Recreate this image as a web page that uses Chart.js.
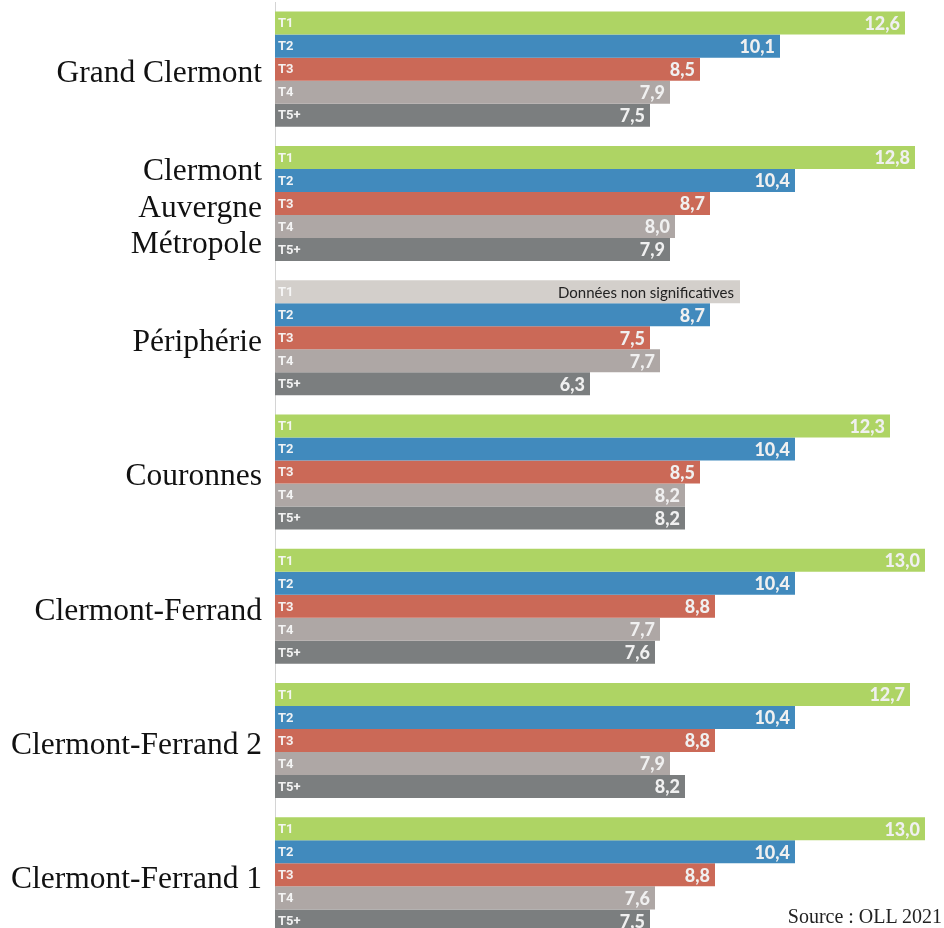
<!DOCTYPE html>
<html lang="fr">
<head>
<meta charset="utf-8">
<title>Loyers par typologie</title>
<script src="https://cdn.jsdelivr.net/npm/chart.js@4/dist/chart.umd.min.js"></script>
<style>
  html, body { margin: 0; padding: 0; background: #fff; overflow: hidden; }
  #wrap { position: relative; width: 944px; height: 942px; }
  #source {
    position: absolute; right: 2px; top: 905px;
    font-family: "Liberation Serif", serif; font-size: 20px; color: #222;
  }
</style>
</head>
<body>
<div id="wrap">
  <canvas id="rentChart"></canvas>
  <div id="source">Source : OLL 2021</div>
</div>
<script>
// --- Data ---
const regions = [
  'Grand Clermont',
  ['Clermont', 'Auvergne', 'Métropole'],
  'Périphérie',
  'Couronnes',
  'Clermont-Ferrand',
  'Clermont-Ferrand 2',
  'Clermont-Ferrand 1',
]
const typologies = ['T1', 'T2', 'T3', 'T4', 'T5+']

const t1 = [12.6, 12.8, null, 12.3, 13.0, 12.7, 13.0]
const t2 = [10.1, 10.4, 8.7, 10.4, 10.4, 10.4, 10.4]
const t3 = [8.5, 8.7, 7.5, 8.5, 8.8, 8.8, 8.8]
const t4 = [7.9, 8.0, 7.7, 8.2, 7.7, 7.9, 7.6]
const t5 = [7.5, 7.9, 6.3, 8.2, 7.6, 8.2, 7.5]

// length of the grey bar shown when a value is missing
const placeholderLength = 9.3
const placeholderText = 'Données non significatives'

const colors = ['#aed464', '#418abd', '#cb6957', '#aea7a5', '#7b7e7f']
const placeholderColor = '#d3cfcb'

const series = [t1, t2, t3, t4, t5]

const datasets = series.map((values, i) => ({
  label: typologies[i],
  data: values.map((v) => (v === null ? placeholderLength : v)),
  backgroundColor: values.map((v) => (v === null ? placeholderColor : colors[i])),
  missing: values.map((v) => v === null),
  borderWidth: 0,
  barPercentage: 1,
  categoryPercentage: 0.857,
}))

// --- Labels drawn inside the bars ---
const barLabels = {
  id: 'barLabels',
  afterDatasetsDraw(chart) {
    const ctx = chart.ctx
    ctx.save()
    ctx.textBaseline = 'middle'
    chart.data.datasets.forEach((ds, di) => {
      const meta = chart.getDatasetMeta(di)
      meta.data.forEach((bar, i) => {
        // series name at the start of the bar
        ctx.fillStyle = 'rgba(248,248,248,0.95)'
        ctx.textAlign = 'left'
        ctx.font = 'bold 13px Roboto'
        ctx.fillText(ds.label, bar.base + 3, bar.y + 1)

        ctx.textAlign = 'right'
        if (ds.missing[i]) {
          ctx.fillStyle = '#222'
          ctx.font = '15px Lato'
          ctx.fillText(placeholderText, bar.x - 6, bar.y + 1)
        } else {
          ctx.fillStyle = '#f0f0f0'
          ctx.font = '900 18px Lato'
          const txt = ds.data[i].toFixed(1).replace('.', ',')
          ctx.fillText(txt, bar.x - 5, bar.y + 1)
        }
      })
    })
    ctx.restore()
  },
}

new Chart(document.getElementById('rentChart'), {
  type: 'bar',
  data: { labels: regions, datasets },
  options: {
    indexAxis: 'y',
    responsive: true,
    maintainAspectRatio: false,
    animation: false,
    layout: { padding: { top: 2, right: 0, bottom: 0, left: 0 } },
    scales: {
      x: { display: false, min: 0, max: 13.38 },
      y: {
        afterFit(scale) {
          scale.width = 275
          // keep the bars running to the edges of the canvas
          scale.paddingTop = 0
          scale.paddingBottom = 0
        },
        grid: { display: false, drawTicks: false },
        border: { display: true, color: '#d4d4d4', width: 1 },
        ticks: {
          padding: 13,
          labelOffset: 5,
          color: '#111',
          font: { family: 'Liberation Serif', size: 31.5, lineHeight: 1.15 },
        },
      },
    },
    plugins: {
      legend: { display: false },
      tooltip: { enabled: false },
    },
  },
  plugins: [barLabels],
})
</script>
</body>
</html>
